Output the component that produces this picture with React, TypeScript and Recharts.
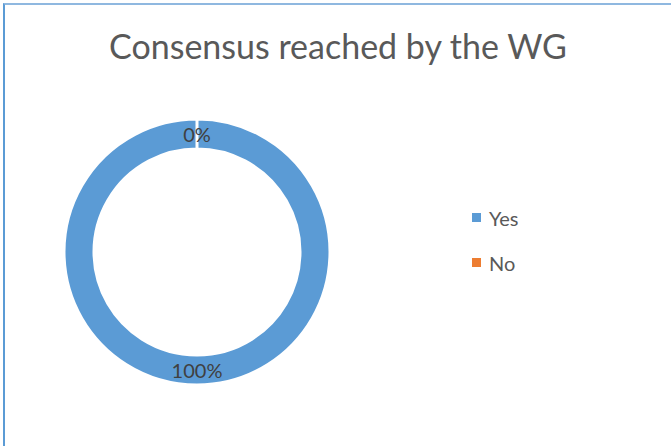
import { PieChart, Pie, Cell, Legend } from 'recharts'

const categories = ['Yes', 'No']
const values = [100, 0]
const COLORS = ['#5B9BD5', '#ED7D31']

const RADIAN = Math.PI / 180

const chartData = categories.map((name, i) => ({ name, value: values[i] }))

function renderLabel(props: any) {
    const { cx, cy, midAngle, innerRadius, outerRadius, percent } = props
    const r = (innerRadius + outerRadius) / 2
    const x = cx + r * Math.cos(-midAngle * RADIAN)
    const y = cy + r * Math.sin(-midAngle * RADIAN)
    return (
        <text
            x={x}
            y={y}
            fill="#404040"
            fontSize={20}
            fontFamily="Lato, sans-serif"
            textAnchor="middle"
            dominantBaseline="central"
        >
            {`${Math.round(percent * 100)}%`}
        </text>
    )
}

function LegendBox() {
    return (
        <div style={{ fontFamily: 'Lato, sans-serif', fontSize: 20, color: '#595959' }}>
            {categories.map((c, i) => (
                <div key={c} style={{ display: 'flex', alignItems: 'center', height: 45 }}>
                    <span style={{ width: 9, height: 9, background: COLORS[i], marginRight: 8, display: 'inline-block' }} />
                    <span>{c}</span>
                </div>
            ))}
        </div>
    )
}

export default function App() {
    return (
        <div style={{ position: 'absolute', left: 0, top: 0, width: 671, height: 446, background: '#fff' }}>
            <div
                style={{
                    position: 'absolute', left: 3, top: 3, width: 668, height: 443,
                    borderLeft: '2px solid #5B9BD5', borderTop: '2px solid #8FB8E0', boxSizing: 'border-box'
                }}
            />
            <div
                style={{
                    position: 'absolute', left: 0, top: 25, width: 676, textAlign: 'center',
                    fontFamily: 'Lato, sans-serif', fontSize: 34, color: '#595959', whiteSpace: 'nowrap'
                }}
            >
                Consensus reached by the WG
            </div>
            <div style={{ position: 'absolute', left: 0, top: 0 }}>
                <PieChart width={671} height={446} margin={{ top: 0, right: 0, bottom: 0, left: 0 }}>
                    <Pie
                        data={chartData}
                        cx={197}
                        cy={252}
                        innerRadius={103}
                        outerRadius={133}
                        startAngle={90}
                        endAngle={-270}
                        dataKey="value"
                        stroke="#ffffff"
                        strokeWidth={3}
                        labelLine={false}
                        label={renderLabel}
                        isAnimationActive={false}
                    >
                        {chartData.map((entry, index) => (
                            <Cell key={`cell-${index}`} fill={COLORS[index]} />
                        ))}
                    </Pie>
                    <Legend
                        content={() => <LegendBox />}
                        wrapperStyle={{ position: 'absolute', left: 472, top: 195, width: 100 }}
                    />
                </PieChart>
            </div>
        </div>
    )
}
